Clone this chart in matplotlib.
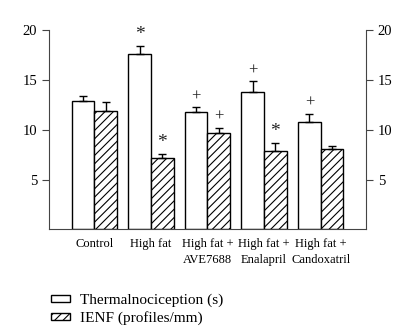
import matplotlib.pyplot as plt
from matplotlib.patches import Patch
import numpy as np

plt.rcParams['font.family'] = ['Liberation Serif', 'DejaVu Serif']
plt.rcParams['hatch.linewidth'] = 0.8

# ---------- data ----------
groups = ["Control", "High fat", "High fat +\nAVE7688", "High fat +\nEnalapril", "High fat +\nCandoxatril"]
thermal = [12.85, 17.6, 11.8, 13.75, 10.75]
thermal_err = [0.5, 0.8, 0.45, 1.1, 0.85]
ienf = [11.85, 7.15, 9.7, 7.9, 8.1]
ienf_err = [0.9, 0.4, 0.5, 0.8, 0.3]
thermal_marks = ["", "*", "+", "+", "+"]
ienf_marks = ["", "*", "+", "*", ""]

x = np.arange(len(groups))
w = 0.4

fig = plt.figure(figsize=(4.14, 3.36), dpi=100)
ax = fig.add_axes([0.1184, 0.317, 0.7656, 0.594])

ekw = dict(elinewidth=1, capsize=3, capthick=1, ecolor="black")
ax.bar(x - w/2, thermal, w, color="white", edgecolor="black", linewidth=1,
       yerr=[np.zeros(len(x)), thermal_err], error_kw=ekw)
ax.bar(x + w/2, ienf, w, color="white", edgecolor="black", linewidth=1, hatch="////",
       yerr=[np.zeros(len(x)), ienf_err], error_kw=ekw)

# significance marks above the error bars
for i in range(len(x)):
    for xs, v, e, m in [(x[i] - w/2, thermal[i], thermal_err[i], thermal_marks[i]),
                        (x[i] + w/2, ienf[i], ienf_err[i], ienf_marks[i])]:
        if m:
            ax.text(xs, v + e + 0.3, m, ha="center", va="bottom",
                    fontsize=14 if m == "*" else 12, fontweight="light", color="#222222")

ax.set_xlim(-0.8, 4.8)
ax.set_ylim(0, 20)
ax.set_yticks([5, 10, 15, 20])
ax.set_xticks(x)
ax.set_xticklabels(groups, fontsize=9, linespacing=1.45)
ax.tick_params(axis="x", length=0, pad=6)
ax.tick_params(axis="y", labelsize=10.5, direction="out", length=5, right=True, labelright=True,
               color="#444444")
ax.spines["top"].set_visible(False)
for s in ["left", "right", "bottom"]:
    ax.spines[s].set_color("#444444")

handles = [Patch(facecolor="white", edgecolor="black", label="Thermalnociception (s)"),
           Patch(facecolor="white", edgecolor="black", hatch="////", label="IENF (profiles/mm)")]
fig.legend(handles=handles, loc="upper left", bbox_to_anchor=(0.122, 0.126), frameon=False,
           fontsize=11, handlelength=1.3, handleheight=0.35, handletextpad=0.6,
           labelspacing=0.26, borderaxespad=0, borderpad=0)

fig.savefig("out.png", dpi=100)
